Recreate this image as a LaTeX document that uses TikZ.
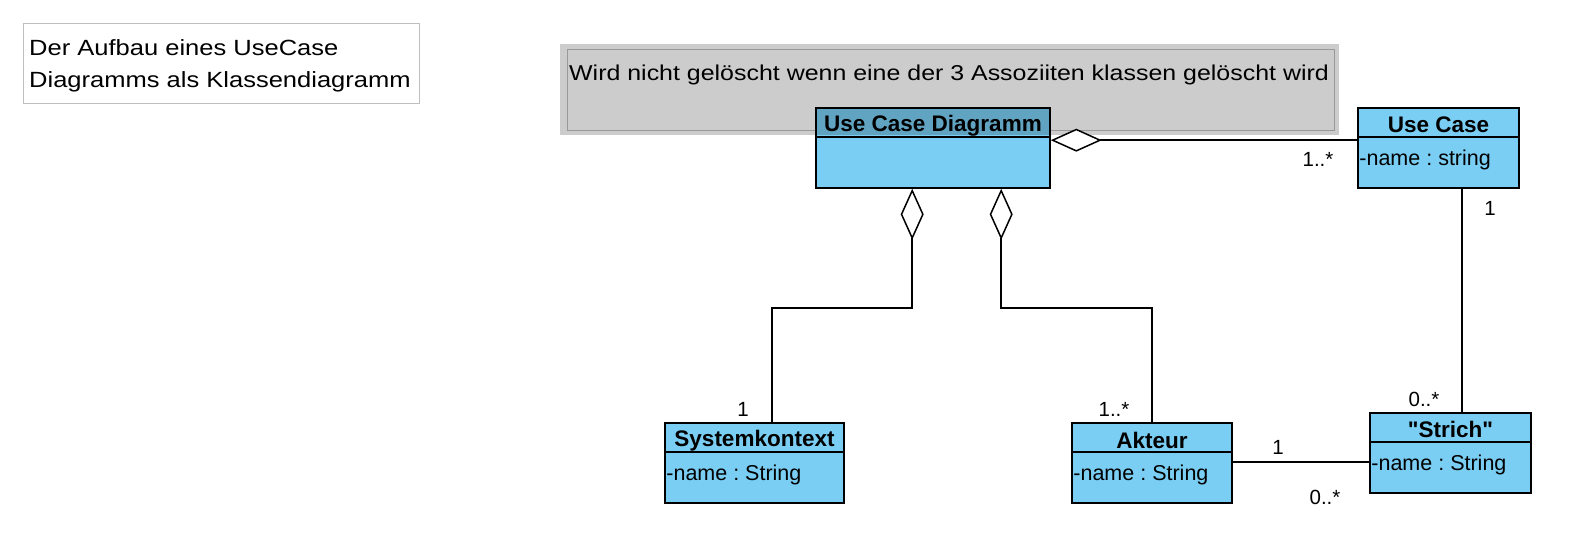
\documentclass[tikz,border=0pt]{standalone}
\usepackage{fontspec}
\setmainfont{Liberation Sans}[Ligatures=TeXOff]
\usetikzlibrary{arrows.meta,calc}
\definecolor{clsfill}{RGB}{122,206,243}
\definecolor{notegray}{RGB}{192,192,192}
\definecolor{titlegray}{RGB}{190,190,190}
\tikzset{
  ln/.style={line width=1.6pt, draw=black},
  cls/.style={ln, fill=clsfill, rectangle, inner sep=0pt, minimum height=80pt},
  ctitle/.style={inner sep=0pt, font=\fontsize{22.5}{26}\selectfont\bfseries},
  cattr/.style={inner sep=0pt, anchor=west, font=\fontsize{21.5}{25}\selectfont\frenchspacing},
  mult/.style={inner sep=0pt, font=\fontsize{20.5}{24}\selectfont},
  agg/.style={ln, {Diamond[fill=white, length=51pt, width=23pt, line width=1.5pt]}-},
}
\begin{document}
\begin{tikzpicture}[x=1pt,y=-1pt]
\useasboundingbox (0,0) rectangle (1583,534);
\fill[white] (0,0) rectangle (1583,534);

% title box
\node[draw=titlegray, line width=1pt, rectangle, inner sep=0pt, minimum width=396pt, minimum height=80pt] (tbox) at (221,64) {};
\node[inner sep=0pt, anchor=west, align=left, font=\fontsize{22}{32}\selectfont] (ttext) at (29,66)
  {\scalebox{1.16}[1]{Der Aufbau eines UseCase}\\\scalebox{1.16}[1]{Diagramms als Klassendiagramm}};

% note inner border (under the class)
\node[draw=notegray, line width=1pt, rectangle, inner sep=0pt, minimum width=767pt, minimum height=81pt] (noteinner) at (950.5,90.5) {};

% Use Case Diagramm
\node[cls, minimum width=234pt] (ucd) at (933,148) {};
\draw[ln] ([yshift=-30pt]ucd.north west) -- ([yshift=-30pt]ucd.north east);
\node[ctitle] (ucdT) at ([yshift=-19pt]ucd.north) {Use Case Diagramm};

% note overlay
\node[fill=black, fill opacity=0.2, rectangle, inner sep=0pt, minimum width=779pt, minimum height=91pt] (note) at (949.5,89.5) {};
\node[inner sep=0pt, anchor=west, font=\fontsize{21.5}{25}\selectfont] (notetext) at (569,75)
  {\scalebox{1.16}[1]{Wird nicht gelöscht wenn eine der 3 Assoziiten klassen gelöscht wird}};

% Use Case
\node[cls, minimum width=161pt] (uc) at (1438.5,148) {};
\draw[ln] ([yshift=-30pt]uc.north west) -- ([yshift=-30pt]uc.north east);
\node[ctitle] (ucT) at ([yshift=-18pt]uc.north) {Use Case};
\node[cattr] (ucA) at ([xshift=2pt,yshift=-53pt]uc.north west) {-name : string};

% Systemkontext
\node[cls, minimum width=179pt] (sys) at (754.5,463) {};
\draw[ln] ([yshift=-30pt]sys.north west) -- ([yshift=-30pt]sys.north east);
\node[ctitle] (sysT) at ([yshift=-18pt]sys.north) {Systemkontext};
\node[cattr] (sysA) at ([xshift=2pt,yshift=-53pt]sys.north west) {-name : String};

% Akteur
\node[cls, minimum width=160pt] (akt) at (1152,463) {};
\draw[ln] ([yshift=-30pt]akt.north west) -- ([yshift=-30pt]akt.north east);
\node[ctitle] (aktT) at ([yshift=-18pt]akt.north) {Akteur};
\node[cattr] (aktA) at ([xshift=2pt,yshift=-53pt]akt.north west) {-name : String};

% Strich
\node[cls, minimum width=161pt] (str) at (1450.5,453) {};
\draw[ln] ([yshift=-30pt]str.north west) -- ([yshift=-30pt]str.north east);
\node[ctitle] (strT) at ([yshift=-17pt]str.north) {"Strich"};
\node[cattr] (strA) at ([xshift=2pt,yshift=-53pt]str.north west) {-name : String};

% connectors
\draw[agg] ([yshift=-33pt]ucd.north east) -- ([yshift=-33pt]uc.north west);
\draw[agg] ([xshift=97pt]ucd.south west) -- ++(0,119) -| ([xshift=17.5pt]sys.north);
\draw[agg] ([xshift=186pt]ucd.south west) -- ++(0,119) -| (akt.north);
\draw[ln] ([xshift=105pt]uc.south west) -- ([xshift=105pt]uc.south west |- str.north);
\draw[ln] ([yshift=1pt]akt.east) -- ([yshift=1pt]akt.east -| str.west);

% multiplicities
\node[mult] (m1) at (1318,159) {1..*};
\node[mult] (m2) at (1490,208) {1};
\node[mult] (m3) at (1424,399) {0..*};
\node[mult] (m4) at (743,409) {1};
\node[mult] (m5) at (1114,409) {1..*};
\node[mult] (m6) at (1278,447) {1};
\node[mult] (m7) at (1325,497) {0..*};
\end{tikzpicture}
\end{document}
